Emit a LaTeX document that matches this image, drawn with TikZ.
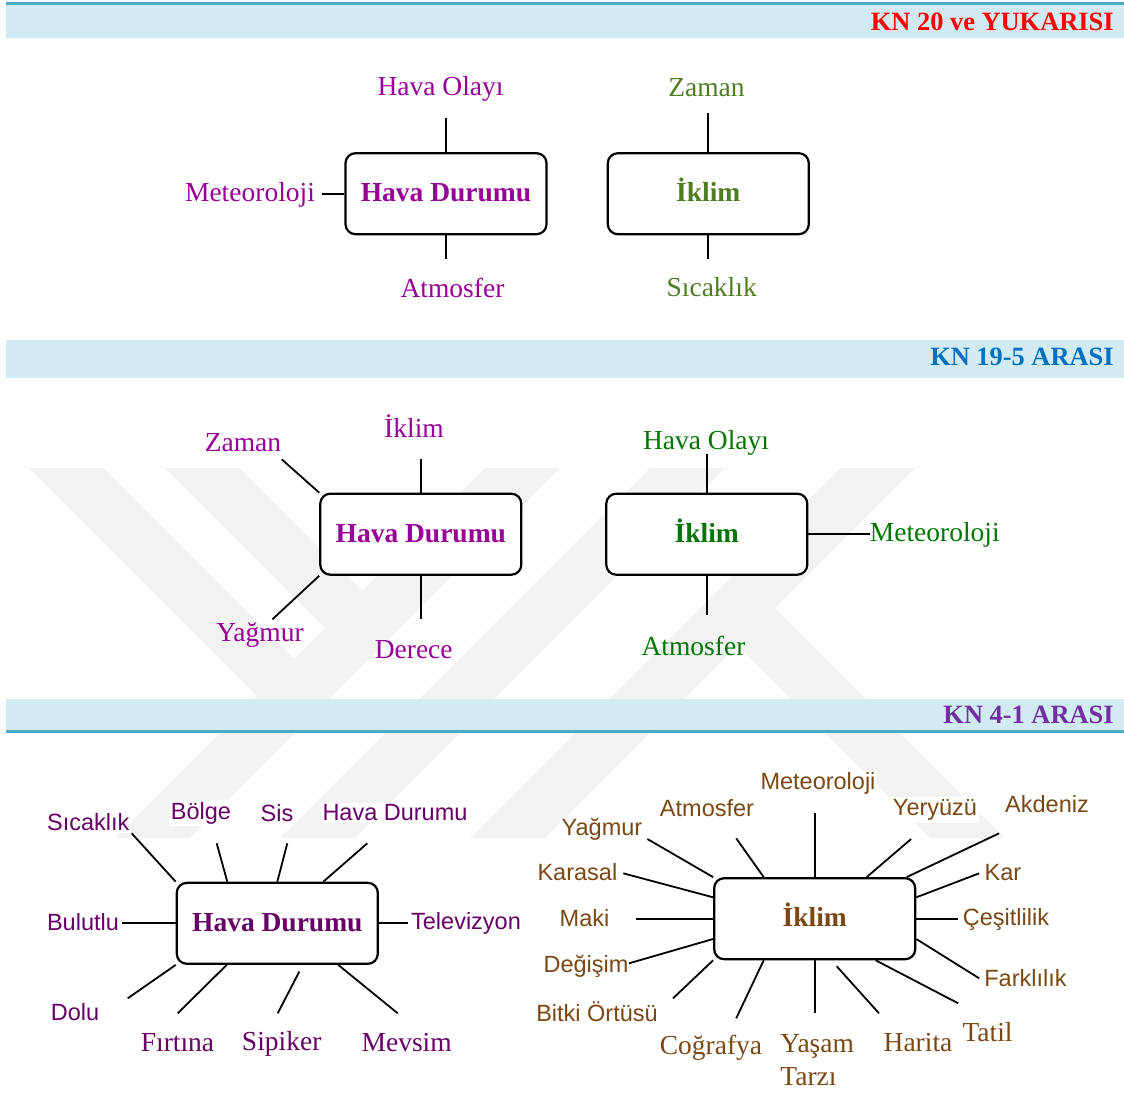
\documentclass[tikz,border=0pt]{standalone}
\usepackage{fontspec}
\setmainfont{Liberation Serif}
\newfontfamily\arialfont{Liberation Sans}
\usetikzlibrary{calc}

\definecolor{barfill}{RGB}{210,234,241}
\definecolor{barline}{RGB}{75,172,198}
\definecolor{hdred}{RGB}{255,0,0}
\definecolor{hdblue}{RGB}{0,112,192}
\definecolor{hdpurple}{RGB}{112,48,160}
\definecolor{magentaP}{RGB}{150,0,150}
\definecolor{oliveG}{RGB}{79,125,35}
\definecolor{greenG}{RGB}{0,118,0}
\definecolor{plumP}{RGB}{102,0,102}
\definecolor{brownB}{RGB}{122,72,18}
\definecolor{markgray}{RGB}{242,242,242}

\begin{document}
\begin{tikzpicture}[x=0.5pt,y=-0.5pt,
  concept/.style={draw=black, line width=1.1pt, rounded corners=5pt,
    minimum width=100.5pt, minimum height=40.5pt, fill=white, inner sep=0pt,
    text height=10pt, text depth=2pt,
    font=\fontsize{13.75}{16.5}\selectfont\bfseries},
  serifterm/.style={inner sep=0pt, font=\fontsize{13.75}{16.5}\selectfont},
  sansterm/.style={inner sep=1pt, fill=white, font=\arialfont\fontsize{11.75}{14}\selectfont},
  link/.style={draw=black, line width=0.9pt},
  bandtitle/.style={anchor=east, inner sep=0pt, font=\fontsize{13.2}{16}\selectfont\bfseries},
]
\useasboundingbox (0,0) rectangle (1124,1115);

% faint logo watermark behind the middle of the page
\begin{scope}
\fill[markgray] (29,468) -- (104,468) -- (294.5,658.5) -- (257,696) -- cycle;
\fill[markgray] (165,468) -- (240,468) -- (362.5,590.5) -- (325,628) -- cycle;
\fill[markgray] (485,468) -- (560,468) -- (190,838) -- (115,838) -- cycle;
\fill[markgray] (650,468) -- (725,468) -- (355,838) -- (280,838) -- cycle;
\fill[markgray] (840,468) -- (915,468) -- (545,838) -- (470,838) -- cycle;
\fill[markgray] (737.5,645.5) -- (775,608) -- (1005,838) -- (930,838) -- cycle;
\end{scope}

% section banners
\fill[barfill] (6,5) rectangle (1124,38);
\draw[barline, line width=1.65pt] (6,3.4) -- (1124,3.4);
\fill[barfill] (6,340) rectangle (1124,378);
\fill[barfill] (6,699) rectangle (1124,730);
\draw[barline, line width=1.65pt] (6,731.7) -- (1124,731.7);

\node[bandtitle, text=hdred] (titleA) at (1114,21.7) {KN 20 ve YUKARISI};
\node[bandtitle, text=hdblue] (titleB) at (1114,356.7) {KN 19-5 ARASI};
\node[bandtitle, text=hdpurple] (titleC) at (1114,715) {KN 4-1 ARASI};

% ---------------- KN 20 ve YUKARISI ----------------
\node[concept, text=magentaP] (hdA) at (446,193.7) {Hava Durumu};
\node[serifterm, text=magentaP] (hdA1) at (440.5,88.5) {Hava Olayı};
\node[serifterm, text=magentaP] (hdA2) at (250,194.5) {Meteoroloji};
\node[serifterm, text=magentaP] (hdA3) at (452.5,288) {Atmosfer};
\coordinate (hdA1e) at (446,118);
\coordinate (hdA2e) at (321.7,193.7);
\coordinate (hdA3e) at (446,259.3);
\draw[link] (hdA.north) -- (hdA1e);
\draw[link] (hdA.west) -- (hdA2e);
\draw[link] (hdA.south) -- (hdA3e);

\node[concept, text=oliveG] (ikA) at (708.3,193.7) {İklim};
\node[serifterm, text=oliveG] (ikA1) at (706.5,87.5) {Zaman};
\node[serifterm, text=oliveG] (ikA2) at (711.7,287.5) {Sıcaklık};
\coordinate (ikA1e) at (708.3,113.3);
\coordinate (ikA2e) at (708.3,259.3);
\draw[link] (ikA.north) -- (ikA1e);
\draw[link] (ikA.south) -- (ikA2e);

% ---------------- KN 19-5 ARASI ----------------
\node[concept, text=magentaP] (hdB) at (420.8,534.2) {Hava Durumu};
\node[serifterm, text=magentaP] (hdB1) at (243,442.5) {Zaman};
\node[serifterm, text=magentaP] (hdB2) at (414,426) {İklim};
\node[serifterm, text=magentaP] (hdB3) at (260,635) {Yağmur};
\node[serifterm, text=magentaP] (hdB4) at (413.7,649.5) {Derece};
\coordinate (hdB1e) at (281.7,459.3);
\coordinate (hdB2e) at (420.8,459.3);
\coordinate (hdB3e) at (272.4,619.3);
\coordinate (hdB4e) at (420.8,619.3);
\draw[link] (hdB.north west) -- (hdB1e);
\draw[link] (hdB.north) -- (hdB2e);
\draw[link] (hdB.south west) -- (hdB3e);
\draw[link] (hdB.south) -- (hdB4e);

\node[concept, text=greenG] (ikB) at (706.8,534.2) {İklim};
\node[serifterm, text=greenG] (ikB1) at (706,443) {Hava Olayı};
\node[serifterm, text=greenG] (ikB2) at (693.5,645.5) {Atmosfer};
\node[serifterm, text=greenG, anchor=west] (ikB3) at (869.5,535) {Meteoroloji};
\coordinate (ikB1e) at (706.8,454.3);
\coordinate (ikB2e) at (706.8,615);
\draw[link] (ikB.north) -- (ikB1e);
\draw[link] (ikB.south) -- (ikB2e);
\draw[link] (ikB.east) -- (ikB.east -| ikB3.west);

% ---------------- KN 4-1 ARASI ----------------
\node[concept, text=plumP] (hdC) at (277.3,923.3) {Hava Durumu};
\node[sansterm, text=plumP] (hdC1) at (88.3,822) {Sıcaklık};
\node[sansterm, text=plumP] (hdC2) at (201,813) {Bölge};
\node[sansterm, text=plumP] (hdC3) at (277,813) {Sis};
\node[sansterm, text=plumP] (hdC4) at (395,813) {Hava Durumu};
\node[sansterm, text=plumP] (hdC5) at (83,922) {Bulutlu};
\node[sansterm, text=plumP] (hdC6) at (466,923.5) {Televizyon};
\node[sansterm, text=plumP] (hdC7) at (75,1012) {Dolu};
\node[serifterm, text=plumP] (hdC8) at (177.5,1042.5) {Fırtına};
\node[serifterm, text=plumP] (hdC9) at (281.7,1043.5) {Sipiker};
\node[serifterm, text=plumP] (hdC10) at (406.7,1042.5) {Mevsim};
\coordinate (hdC1e) at (131.7,833.3);
\coordinate (hdC2e) at (216.7,843.3);
\coordinate (hdC3e) at (287.3,843.3);
\coordinate (hdC4e) at (367.3,843.3);
\coordinate (hdC5e) at (122.3,923.3);
\coordinate (hdC6e) at (407.7,923.3);
\coordinate (hdC7e) at (127.7,998.3);
\coordinate (hdC8e) at (177.7,1013.3);
\coordinate (hdC9s) at ($(hdC.south)+(22,6.7)$);
\coordinate (hdC9e) at (277.7,1013.3);
\coordinate (hdC10e) at (397.7,1013.3);
\draw[link] (hdC.north west) -- (hdC1e);
\draw[link] ($(hdC.north)+(-50,0)$) -- (hdC2e);
\draw[link] (hdC.north) -- (hdC3e);
\draw[link] ($(hdC.north)+(46,0)$) -- (hdC4e);
\draw[link] (hdC.west) -- (hdC5e);
\draw[link] (hdC.east) -- (hdC6e);
\draw[link] (hdC.south west) -- (hdC7e);
\draw[link] ($(hdC.south)+(-50.6,0)$) -- (hdC8e);
\draw[link] (hdC9s) -- (hdC9e);
\draw[link] ($(hdC.south)+(61,0)$) -- (hdC10e);

\node[concept, text=brownB] (ikC) at (814.7,918.7) {İklim};
\node[sansterm, text=brownB] (ikC1) at (818,783.5) {Meteoroloji};
\node[sansterm, text=brownB] (ikC2) at (707,808) {Atmosfer};
\node[sansterm, text=brownB] (ikC3) at (602,829.5) {Yağmur};
\node[sansterm, text=brownB] (ikC4) at (577.4,872) {Karasal};
\node[sansterm, text=brownB] (ikC5) at (584.5,918) {Maki};
\node[sansterm, text=brownB] (ikC6) at (586,966.5) {Değişim};
\node[sansterm, text=brownB] (ikC7) at (597,1012) {Bitki Örtüsü};
\node[serifterm, text=brownB] (ikC8) at (711,1048) {Coğrafya};
\node[serifterm, text=brownB, anchor=west, align=left] (ikC9) at (780,1060) {Yaşam\\Tarzı};
\node[serifterm, text=brownB] (ikC10) at (918,1042.5) {Harita};
\node[serifterm, text=brownB] (ikC11) at (987.5,1032) {Tatil};
\node[sansterm, text=brownB] (ikC12) at (1025.5,978) {Farklılık};
\node[sansterm, text=brownB] (ikC13) at (1006,919) {Çeşitlilik};
\node[sansterm, text=brownB] (ikC14) at (1003,872.5) {Kar};
\node[sansterm, text=brownB] (ikC15) at (1047,804) {Akdeniz};
\node[sansterm, text=brownB] (ikC16) at (935,810) {Yeryüzü};
\coordinate (ikC1e) at (814.7,813.3);
\coordinate (ikC2e) at (736.2,838.3);
\coordinate (ikC3e) at (647.4,839);
\coordinate (ikC4e) at (623.3,873.3);
\coordinate (ikC5e) at (636,918.7);
\coordinate (ikC6e) at (629,963.3);
\coordinate (ikC7e) at (673,998.3);
\coordinate (ikC8e) at (736.2,1018.3);
\coordinate (ikC9e) at (814.7,1013.3);
\coordinate (ikC10s) at ($(ikC.south)+(22,6)$);
\coordinate (ikC10e) at (879,1013.3);
\coordinate (ikC11e) at (958.2,1003.3);
\coordinate (ikC12e) at (979.2,978.3);
\coordinate (ikC13e) at (958.2,918.7);
\coordinate (ikC14e) at (979.2,873.3);
\coordinate (ikC15e) at (999.1,833.3);
\coordinate (ikC16e) at (911.1,839);
\draw[link] (ikC.north) -- (ikC1e);
\draw[link] ($(ikC.north)+(-51,0)$) -- (ikC2e);
\draw[link] (ikC.north west) -- (ikC3e);
\draw[link] ($(ikC.west)+(0,-21.4)$) -- (ikC4e);
\draw[link] (ikC.west) -- (ikC5e);
\draw[link] ($(ikC.west)+(0,20.3)$) -- (ikC6e);
\draw[link] (ikC.south west) -- (ikC7e);
\draw[link] ($(ikC.south)+(-51,0)$) -- (ikC8e);
\draw[link] (ikC.south) -- (ikC9e);
\draw[link] (ikC10s) -- (ikC10e);
\draw[link] ($(ikC.south)+(61,0)$) -- (ikC11e);
\draw[link] ($(ikC.east)+(0,20.3)$) -- (ikC12e);
\draw[link] (ikC.east) -- (ikC13e);
\draw[link] ($(ikC.east)+(0,-21.4)$) -- (ikC14e);
\draw[link] ($(ikC.north)+(92,0)$) -- (ikC15e);
\draw[link] ($(ikC.north)+(52,0)$) -- (ikC16e);
\end{tikzpicture}
\end{document}
